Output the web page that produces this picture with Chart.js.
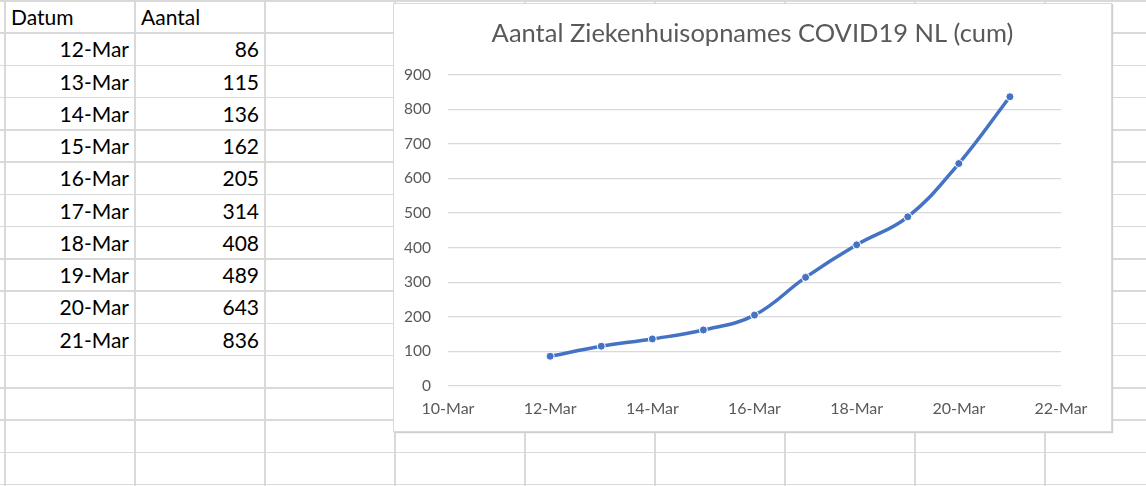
<!DOCTYPE html>
<html>
<head>
<meta charset="utf-8">
<script src="https://cdn.jsdelivr.net/npm/chart.js@4.4.1/dist/chart.umd.min.js"></script>
<style>
  html, body { margin: 0; padding: 0; }
  body {
    width: 1146px; height: 486px; overflow: hidden; position: relative;
    background-color: #fff;
    background-image:
      repeating-linear-gradient(to right, transparent 0, transparent 4px, #d9d9d9 4px, #d9d9d9 6px, transparent 6px, transparent 130px),
      repeating-linear-gradient(to bottom, #d9d9d9 0, #d9d9d9 1.6px, transparent 1.6px, transparent 32.26px);
    font-family: Lato, "Open Sans", sans-serif;
  }
  .cell {
    position: absolute; height: 32.26px; line-height: 32.26px;
    font-size: 21px; color: #000; box-sizing: border-box; white-space: nowrap;
  }
  .cell.num { text-align: right; padding-right: 6px; }
  .cell.head { text-align: left; padding-left: 6px; }
  #chartBox {
    position: absolute; left: 393px; top: 3px; width: 719px; height: 429px;
    background: #fff; border: 1px solid #d9d9d9; box-sizing: border-box;
    box-shadow: 1px 1px 1px #cfcfcf;
  }
  #chart { position: absolute; left: -1px; top: -1px; }
</style>
</head>
<body>
<div id="sheet"></div>
<div id="chartBox"><canvas id="chart" width="719" height="429"></canvas></div>
<script>
// data from the sheet
const dagen = [12, 13, 14, 15, 16, 17, 18, 19, 20, 21];
const datumLabels = dagen.map(d => d + '-Mar');
const aantal = [86, 115, 136, 162, 205, 314, 408, 489, 643, 836];
const xTicks = [10, 12, 14, 16, 18, 20, 22];
const yTicks = [0, 100, 200, 300, 400, 500, 600, 700, 800, 900];

// spreadsheet cells
const sheet = document.getElementById('sheet');
function addCell(text, col, row, cls) {
  const el = document.createElement('div');
  el.className = 'cell ' + cls;
  el.textContent = text;
  el.style.left = (5 + col * 130) + 'px';
  el.style.width = '130px';
  el.style.top = (1 + row * 32.26) + 'px';
  sheet.appendChild(el);
}
addCell('Datum', 0, 0, 'head');
addCell('Aantal', 1, 0, 'head');
datumLabels.forEach((lbl, i) => {
  addCell(lbl, 0, i + 1, 'num');
  addCell(String(aantal[i]), 1, i + 1, 'num');
});

const tekstKleur = '#595959';
const rasterKleur = '#d9d9d9';

new Chart(document.getElementById('chart'), {
  type: 'line',
  data: {
    datasets: [{
      label: 'Aantal',
      data: dagen.map((d, i) => ({ x: d, y: aantal[i] })),
      borderColor: '#4472C4',
      borderWidth: 3.5,
      tension: 0.4,
      pointRadius: 4,
      pointBackgroundColor: '#4472C4',
      pointBorderColor: '#fff',
      pointBorderWidth: 1
    }]
  },
  options: {
    responsive: false,
    animation: false,
    layout: { padding: { left: 0, right: 0, top: 0, bottom: 13 } },
    plugins: {
      legend: { display: false },
      tooltip: { enabled: false },
      title: {
        display: true,
        text: 'Aantal Ziekenhuisopnames COVID19 NL (cum)',
        color: tekstKleur,
        font: { family: 'Lato', size: 25.5, weight: 'normal' },
        padding: { top: 15, bottom: 26 }
      }
    },
    scales: {
      x: {
        type: 'linear',
        min: 10, max: 22,
        afterBuildTicks: scale => { scale.ticks = xTicks.map(v => ({ value: v })); },
        afterFit: scale => { scale.height = 33; },
        grid: { display: false, drawTicks: false },
        border: { display: false },
        ticks: {
          color: tekstKleur,
          font: { family: 'Lato', size: 16 },
          padding: 13,
          maxRotation: 0,
          callback: v => v + '-Mar'
        }
      },
      y: {
        min: 0, max: 900,
        afterBuildTicks: scale => { scale.ticks = yTicks.map(v => ({ value: v })); },
        afterFit: scale => { scale.width = 55; },
        grid: { color: rasterKleur, lineWidth: 1.3, drawTicks: false },
        border: { display: false },
        ticks: {
          color: tekstKleur,
          font: { family: 'Lato', size: 15.5 },
          padding: 17
        }
      },
      // lege as rechts, alleen voor de witruimte naast het plotvlak
      rechts: {
        position: 'right',
        afterFit: scale => { scale.width = 51; },
        grid: { display: false, drawTicks: false },
        border: { display: false },
        ticks: { display: false }
      }
    }
  }
});
</script>
</body>
</html>
